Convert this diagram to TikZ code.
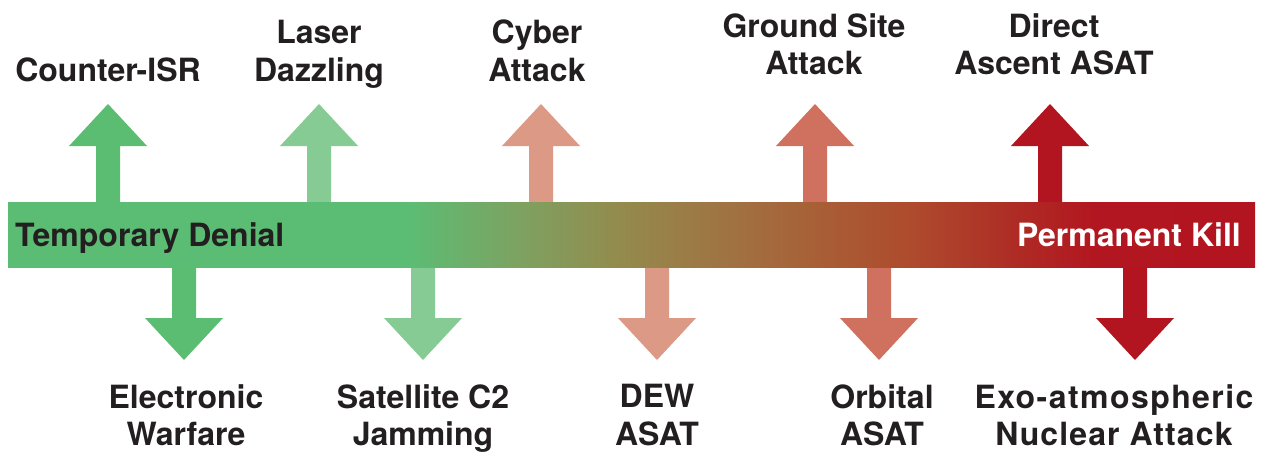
\documentclass[tikz,border=0pt]{standalone}
\usepackage{fontspec}
\setmainfont{TeX Gyre Heros}
\definecolor{txt}{HTML}{231F20}
\definecolor{cG}{RGB}{91,189,114}
\definecolor{cLG}{RGB}{134,202,148}
\definecolor{cS}{RGB}{220,153,133}
\definecolor{cC}{RGB}{208,112,94}
\definecolor{cR}{RGB}{178,21,31}
\definecolor{b0}{RGB}{91,189,116}
\definecolor{b1}{RGB}{124,163,98}
\definecolor{b2}{RGB}{148,138,76}
\definecolor{b3}{RGB}{159,116,67}
\definecolor{b4}{RGB}{168,95,54}
\definecolor{b5}{RGB}{174,74,45}
\definecolor{b6}{RGB}{174,45,37}
\definecolor{b7}{RGB}{178,22,32}
\definecolor{b8}{RGB}{178,21,31}
\pgfdeclarehorizontalshading{barshade}{100bp}{color(0bp)=(b0); color(25bp)=(b0); color(41.0bp)=(b0); color(45.3bp)=(b1); color(49.66bp)=(b2); color(53.55bp)=(b3); color(57.44bp)=(b4); color(61.33bp)=(b5); color(65.22bp)=(b6); color(68.6bp)=(b7); color(75bp)=(b8); color(100bp)=(b8)}
\begin{document}
\begin{tikzpicture}[x=1pt,y=-1pt,
  lbl/.style={font=\fontsize{32}{37.5}\selectfont\bfseries, text=txt, align=center, inner sep=0pt, anchor=north}]
\useasboundingbox (0,0) rectangle (1267,452);
% up arrows
\foreach \cx/\col in {108/cG, 319/cLG, 541/cS, 815/cC, 1050/cR} {
  \fill[\col] (\cx-12,210) -- (\cx-12,146) -- (\cx-39,146) -- (\cx,104) -- (\cx+39,146) -- (\cx+12,146) -- (\cx+12,210) -- cycle;
}
% down arrows
\foreach \cx/\col in {184/cG, 423/cLG, 657/cS, 879/cC, 1135/cR} {
  \fill[\col] (\cx-12,260) -- (\cx-12,318) -- (\cx-39,318) -- (\cx,360) -- (\cx+39,318) -- (\cx+12,318) -- (\cx+12,260) -- cycle;
}
% bar
\shade[shading=barshade] (8,202) rectangle (1255,267);
\node[lbl, anchor=base west] (tmp) at (15,246) {Temporary Denial};
\node[lbl, anchor=base east, text=white] (perm) at (1241,246) {Permanent Kill};
% top labels
\node[lbl] (cisr) at (108,58) {Counter-ISR};
\node[lbl] (laser) at (319,20) {Laser\\Dazzling};
\node[lbl] (cyber) at (537,20) {Cyber\\Attack};
\node[lbl] (ground) at (814,13) {Ground Site\\Attack};
\node[lbl] (da) at (1054,13) {Direct\\Ascent ASAT};
% bottom labels
\node[lbl] (ew) at (186,384) {Electronic\\Warfare};
\node[lbl] (c2) at (423,384) {Satellite C2\\Jamming};
\node[lbl] (dew) at (657,384) {DEW\\ASAT};
\node[lbl] (orb) at (882,384) {Orbital\\ASAT};
\node[lbl] (exo) at (1114,384) {\addfontfeatures{LetterSpace=4.5}Exo-atmospheric\\\addfontfeatures{LetterSpace=3.5}Nuclear Attack};
\end{tikzpicture}
\end{document}
